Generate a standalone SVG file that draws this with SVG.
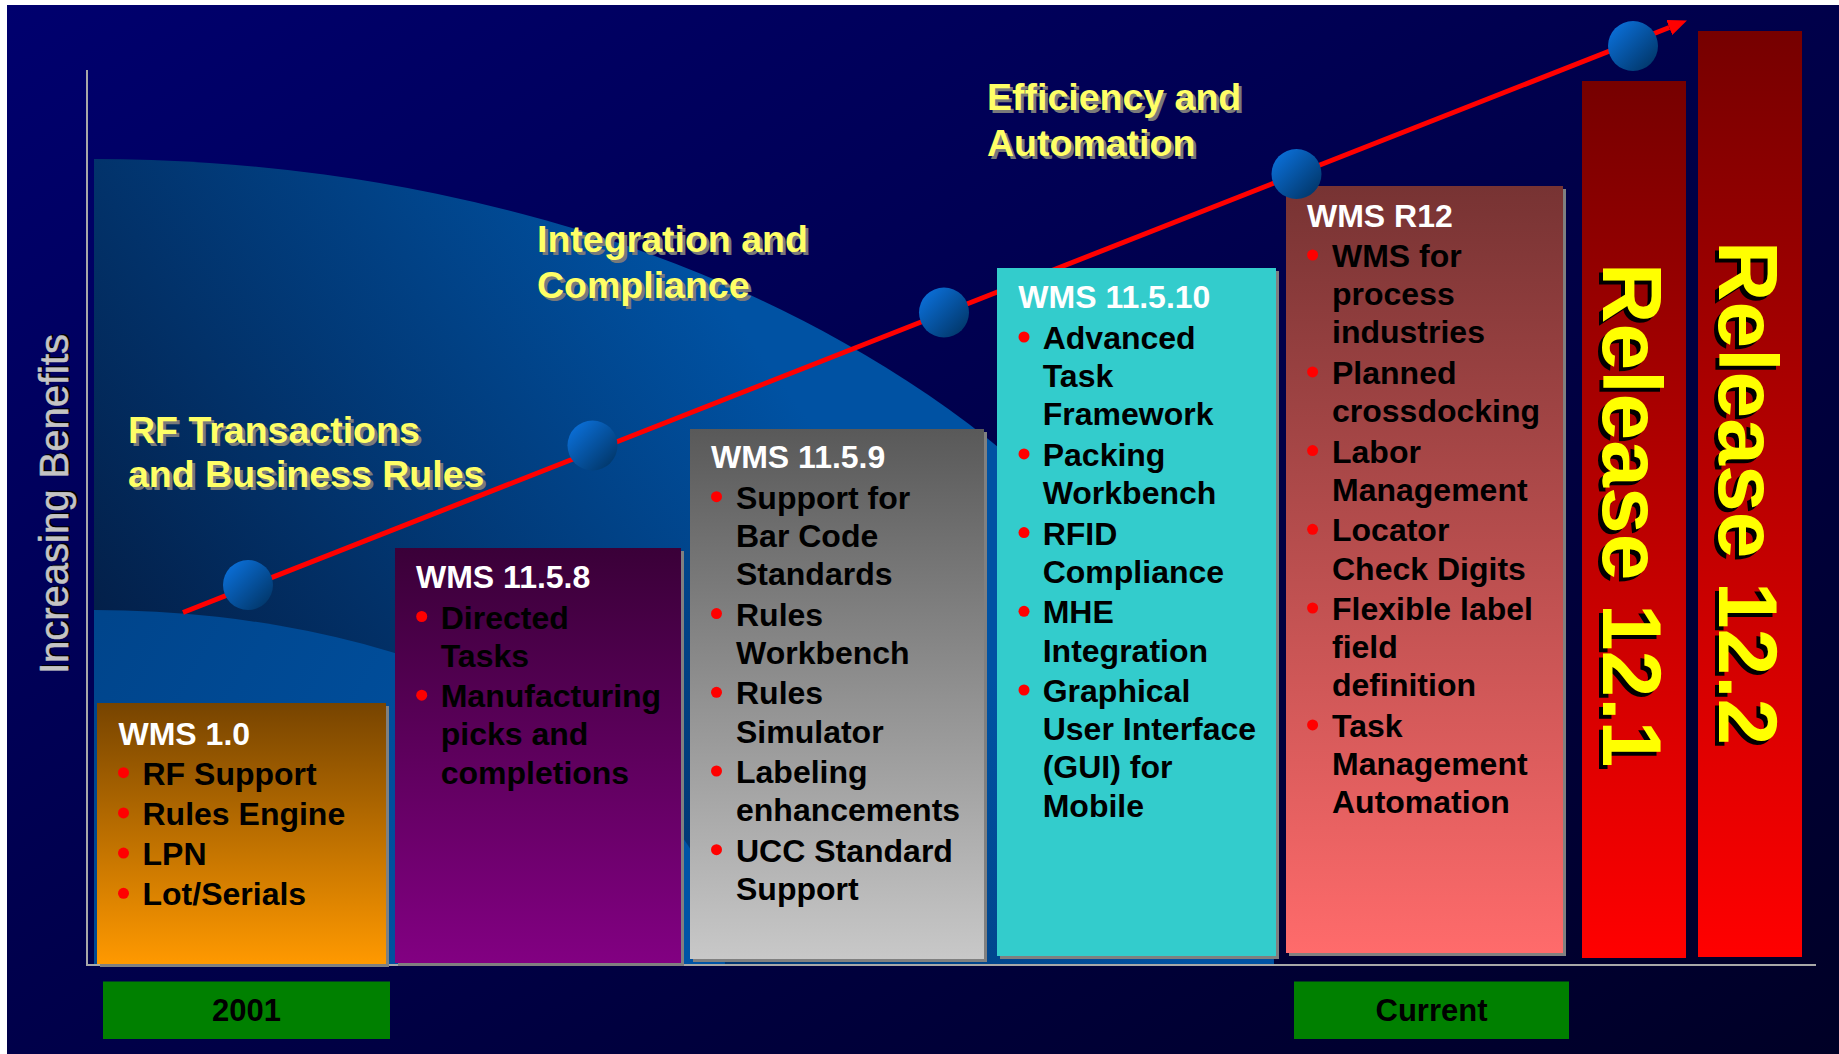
<svg xmlns="http://www.w3.org/2000/svg" width="1839" height="1054" viewBox="0 0 1839 1054">
<defs>
<linearGradient id="bg" x1="0" y1="0" x2="1" y2="1"><stop offset="0" stop-color="#00006E"/><stop offset="1" stop-color="#000026"/></linearGradient>
<linearGradient id="bigArc" gradientUnits="userSpaceOnUse" x1="120" y1="640" x2="680" y2="240"><stop offset="0" stop-color="#03204A"/><stop offset="1" stop-color="#0052A3"/></linearGradient>
<linearGradient id="smallArc" gradientUnits="userSpaceOnUse" x1="100" y1="620" x2="600" y2="900"><stop offset="0" stop-color="#00458C"/><stop offset="1" stop-color="#0054A6"/></linearGradient>
<linearGradient id="gOrange" x1="0" y1="0" x2="0" y2="1"><stop offset="0" stop-color="#774400"/><stop offset="1" stop-color="#FF9900"/></linearGradient>
<linearGradient id="gPurple" x1="0" y1="0" x2="0" y2="1"><stop offset="0" stop-color="#3A0038"/><stop offset="1" stop-color="#820082"/></linearGradient>
<linearGradient id="gGray" x1="0" y1="0" x2="0" y2="1"><stop offset="0" stop-color="#595959"/><stop offset="1" stop-color="#C8C8C8"/></linearGradient>
<linearGradient id="gRose" x1="0" y1="0" x2="0" y2="1"><stop offset="0" stop-color="#773333"/><stop offset="1" stop-color="#FF6B6B"/></linearGradient>
<linearGradient id="gRed" x1="0" y1="0" x2="0" y2="1"><stop offset="0" stop-color="#760000"/><stop offset="1" stop-color="#FF0000"/></linearGradient>
<linearGradient id="gSphere" x1="0.15" y1="0.15" x2="0.85" y2="0.85"><stop offset="0" stop-color="#0A6CD2"/><stop offset="1" stop-color="#023A70"/></linearGradient>
<marker id="arrow" markerUnits="userSpaceOnUse" viewBox="0 0 19 16" markerWidth="19" markerHeight="16" refX="0" refY="8" orient="auto"><path d="M0,0 L19,8 L0,16 Z" fill="#FF0000"/></marker>
</defs>
<style>
text{font-family:"Liberation Sans",Arial,sans-serif;}
.t{font-size:32px;font-weight:bold;fill:#FFFFFF;}
.b{font-size:32px;font-weight:bold;fill:#000000;}
.dot{fill:#FF0000;}
.shadow{fill:#808080;}
.lbl{font-size:37.5px;font-weight:bold;fill:#FFFF66;}
.lblsh{font-size:37.5px;font-weight:bold;fill:#7A7A7A;}
.rel{font-size:84px;font-weight:bold;fill:#FFFF00;}
.relsh{font-size:84px;font-weight:bold;fill:#000000;}
.yr{font-size:31px;font-weight:bold;fill:#000000;text-anchor:middle;}
.axis{stroke:#A8A8A8;stroke-width:2;fill:none;}
.sphere{fill:url(#gSphere);}
</style>

<g id="background">
<rect x="7" y="5" width="1832" height="1049" fill="url(#bg)"/>
<path d="M94,965 L94,159 A1180,806 0 0 1 1274,965 Z" fill="url(#bigArc)"/>
<path d="M94,965 L94,610 A631,355 0 0 1 725,965 Z" fill="url(#smallArc)"/>
</g>

<g id="axes">
<line class="axis" x1="87" y1="70" x2="87" y2="966"/>
<line class="axis" x1="86" y1="965" x2="1816" y2="965"/>
<text transform="translate(68,504) rotate(-90)" font-size="40" fill="#000000" text-anchor="middle" x="1.5" y="1.5">Increasing Benefits</text>
<text transform="translate(68,504) rotate(-90)" font-size="40" fill="#C4C4C4" stroke="#C4C4C4" stroke-width="0.6" text-anchor="middle">Increasing Benefits</text>
</g>

<g id="labels">
<text class="lblsh" x="131" y="446">RF Transactions</text>
<text class="lbl" x="128" y="443">RF Transactions</text>
<text class="lblsh" x="131" y="490">and Business Rules</text>
<text class="lbl" x="128" y="487">and Business Rules</text>
<text class="lblsh" x="540" y="255">Integration and</text>
<text class="lbl" x="537" y="252">Integration and</text>
<text class="lblsh" x="540" y="300.5">Compliance</text>
<text class="lbl" x="537" y="297.5">Compliance</text>
<text class="lblsh" x="990" y="113">Efficiency and</text>
<text class="lbl" x="987" y="110">Efficiency and</text>
<text class="lblsh" x="990" y="158.5">Automation</text>
<text class="lbl" x="987" y="155.5">Automation</text>
</g>

<g id="connectors">
<line x1="183" y1="612.5" x2="1669.3" y2="27.5" stroke="#FF0000" stroke-width="5" marker-end="url(#arrow)"/>
</g>

<g id="node-wms10">
<rect class="shadow" x="100" y="706" width="289" height="261"/>
<rect x="97" y="703" width="289" height="261" fill="url(#gOrange)"/>
<text class="t" x="118.5" y="744.5">WMS 1.0</text>
<circle class="dot" cx="123.5" cy="772.7" r="5.5"/><text class="b" x="142.5" y="784.7">RF Support</text>
<circle class="dot" cx="123.5" cy="812.9" r="5.5"/><text class="b" x="142.5" y="824.9">Rules Engine</text>
<circle class="dot" cx="123.5" cy="853.1" r="5.5"/><text class="b" x="142.5" y="865.1">LPN</text>
<circle class="dot" cx="123.5" cy="893.3" r="5.5"/><text class="b" x="142.5" y="905.3">Lot/Serials</text>
</g>

<g id="node-wms1158">
<rect class="shadow" x="398" y="551" width="286" height="415"/>
<rect x="395" y="548" width="286" height="415" fill="url(#gPurple)"/>
<text class="t" x="416" y="588">WMS 11.5.8</text>
<circle class="dot" cx="421.7" cy="616.5" r="5.5"/><text class="b" x="440.7" y="628.5">Directed</text>
<text class="b" x="440.7" y="666.7">Tasks</text>
<circle class="dot" cx="421.7" cy="695.2" r="5.5"/><text class="b" x="440.7" y="707.2">Manufacturing</text>
<text class="b" x="440.7" y="745.4">picks and</text>
<text class="b" x="440.7" y="783.6">completions</text>
</g>

<g id="node-wms1159">
<rect class="shadow" x="693" y="432" width="294" height="530"/>
<rect x="690" y="429" width="294" height="530" fill="url(#gGray)"/>
<text class="t" x="711" y="468.2">WMS 11.5.9</text>
<circle class="dot" cx="716.5" cy="496.7" r="5.5"/><text class="b" x="736" y="508.7">Support for</text>
<text class="b" x="736" y="546.9">Bar Code</text>
<text class="b" x="736" y="585.1">Standards</text>
<circle class="dot" cx="716.5" cy="613.6" r="5.5"/><text class="b" x="736" y="625.6">Rules</text>
<text class="b" x="736" y="663.8">Workbench</text>
<circle class="dot" cx="716.5" cy="692.3" r="5.5"/><text class="b" x="736" y="704.3">Rules</text>
<text class="b" x="736" y="742.5">Simulator</text>
<circle class="dot" cx="716.5" cy="771" r="5.5"/><text class="b" x="736" y="783">Labeling</text>
<text class="b" x="736" y="821.2">enhancements</text>
<circle class="dot" cx="716.5" cy="849.7" r="5.5"/><text class="b" x="736" y="861.7">UCC Standard</text>
<text class="b" x="736" y="899.9">Support</text>
</g>

<g id="node-wms11510">
<rect class="shadow" x="1000" y="271" width="279" height="688"/>
<rect x="997" y="268" width="279" height="688" fill="#33CCCC"/>
<text class="t" x="1018.3" y="308.3">WMS 11.5.10</text>
<circle class="dot" cx="1024" cy="337" r="5.5"/><text class="b" x="1042.7" y="349">Advanced</text>
<text class="b" x="1042.7" y="387.2">Task</text>
<text class="b" x="1042.7" y="425.4">Framework</text>
<circle class="dot" cx="1024" cy="453.9" r="5.5"/><text class="b" x="1042.7" y="465.9">Packing</text>
<text class="b" x="1042.7" y="504.1">Workbench</text>
<circle class="dot" cx="1024" cy="532.6" r="5.5"/><text class="b" x="1042.7" y="544.6">RFID</text>
<text class="b" x="1042.7" y="582.8">Compliance</text>
<circle class="dot" cx="1024" cy="611.3" r="5.5"/><text class="b" x="1042.7" y="623.3">MHE</text>
<text class="b" x="1042.7" y="661.5">Integration</text>
<circle class="dot" cx="1024" cy="690" r="5.5"/><text class="b" x="1042.7" y="702">Graphical</text>
<text class="b" x="1042.7" y="740.2">User Interface</text>
<text class="b" x="1042.7" y="778.4">(GUI) for</text>
<text class="b" x="1042.7" y="816.6">Mobile</text>
</g>

<g id="node-wmsr12">
<rect class="shadow" x="1289" y="189" width="277" height="767"/>
<rect x="1286" y="186" width="277" height="767" fill="url(#gRose)"/>
<text class="t" x="1307" y="226.5">WMS R12</text>
<circle class="dot" cx="1312.6" cy="255" r="5.5"/><text class="b" x="1332" y="267">WMS for</text>
<text class="b" x="1332" y="305.2">process</text>
<text class="b" x="1332" y="343.4">industries</text>
<circle class="dot" cx="1312.6" cy="371.9" r="5.5"/><text class="b" x="1332" y="383.9">Planned</text>
<text class="b" x="1332" y="422.1">crossdocking</text>
<circle class="dot" cx="1312.6" cy="450.6" r="5.5"/><text class="b" x="1332" y="462.6">Labor</text>
<text class="b" x="1332" y="500.8">Management</text>
<circle class="dot" cx="1312.6" cy="529.3" r="5.5"/><text class="b" x="1332" y="541.3">Locator</text>
<text class="b" x="1332" y="579.5">Check Digits</text>
<circle class="dot" cx="1312.6" cy="608" r="5.5"/><text class="b" x="1332" y="620">Flexible label</text>
<text class="b" x="1332" y="658.2">field</text>
<text class="b" x="1332" y="696.4">definition</text>
<circle class="dot" cx="1312.6" cy="724.9" r="5.5"/><text class="b" x="1332" y="736.9">Task</text>
<text class="b" x="1332" y="775.1">Management</text>
<text class="b" x="1332" y="813.3">Automation</text>
</g>

<g id="node-release121">
<rect x="1582" y="81" width="104" height="877" fill="url(#gRed)"/>
<text class="relsh" transform="translate(1603,515) rotate(90)" x="4" y="4" text-anchor="middle">Release 12.1</text>
<text class="rel" transform="translate(1603,515) rotate(90)" text-anchor="middle">Release 12.1</text>
</g>

<g id="node-release122">
<rect x="1698" y="31" width="104" height="926" fill="url(#gRed)"/>
<text class="relsh" transform="translate(1719,493) rotate(90)" x="4" y="4" text-anchor="middle">Release 12.2</text>
<text class="rel" transform="translate(1719,493) rotate(90)" text-anchor="middle">Release 12.2</text>
</g>

<g id="milestones">
<circle class="sphere" cx="248" cy="585" r="25"/>
<circle class="sphere" cx="592.5" cy="445.5" r="25"/>
<circle class="sphere" cx="944" cy="312.5" r="25"/>
<circle class="sphere" cx="1296.5" cy="174" r="25"/>
<circle class="sphere" cx="1633" cy="46" r="25"/>
</g>

<g id="node-2001">
<rect x="103" y="981.5" width="287" height="57.5" fill="#008000"/>
<text class="yr" x="246.5" y="1021">2001</text>
</g>

<g id="node-current">
<rect x="1294" y="981.5" width="275" height="57.5" fill="#008000"/>
<text class="yr" x="1431.5" y="1021">Current</text>
</g>
</svg>
